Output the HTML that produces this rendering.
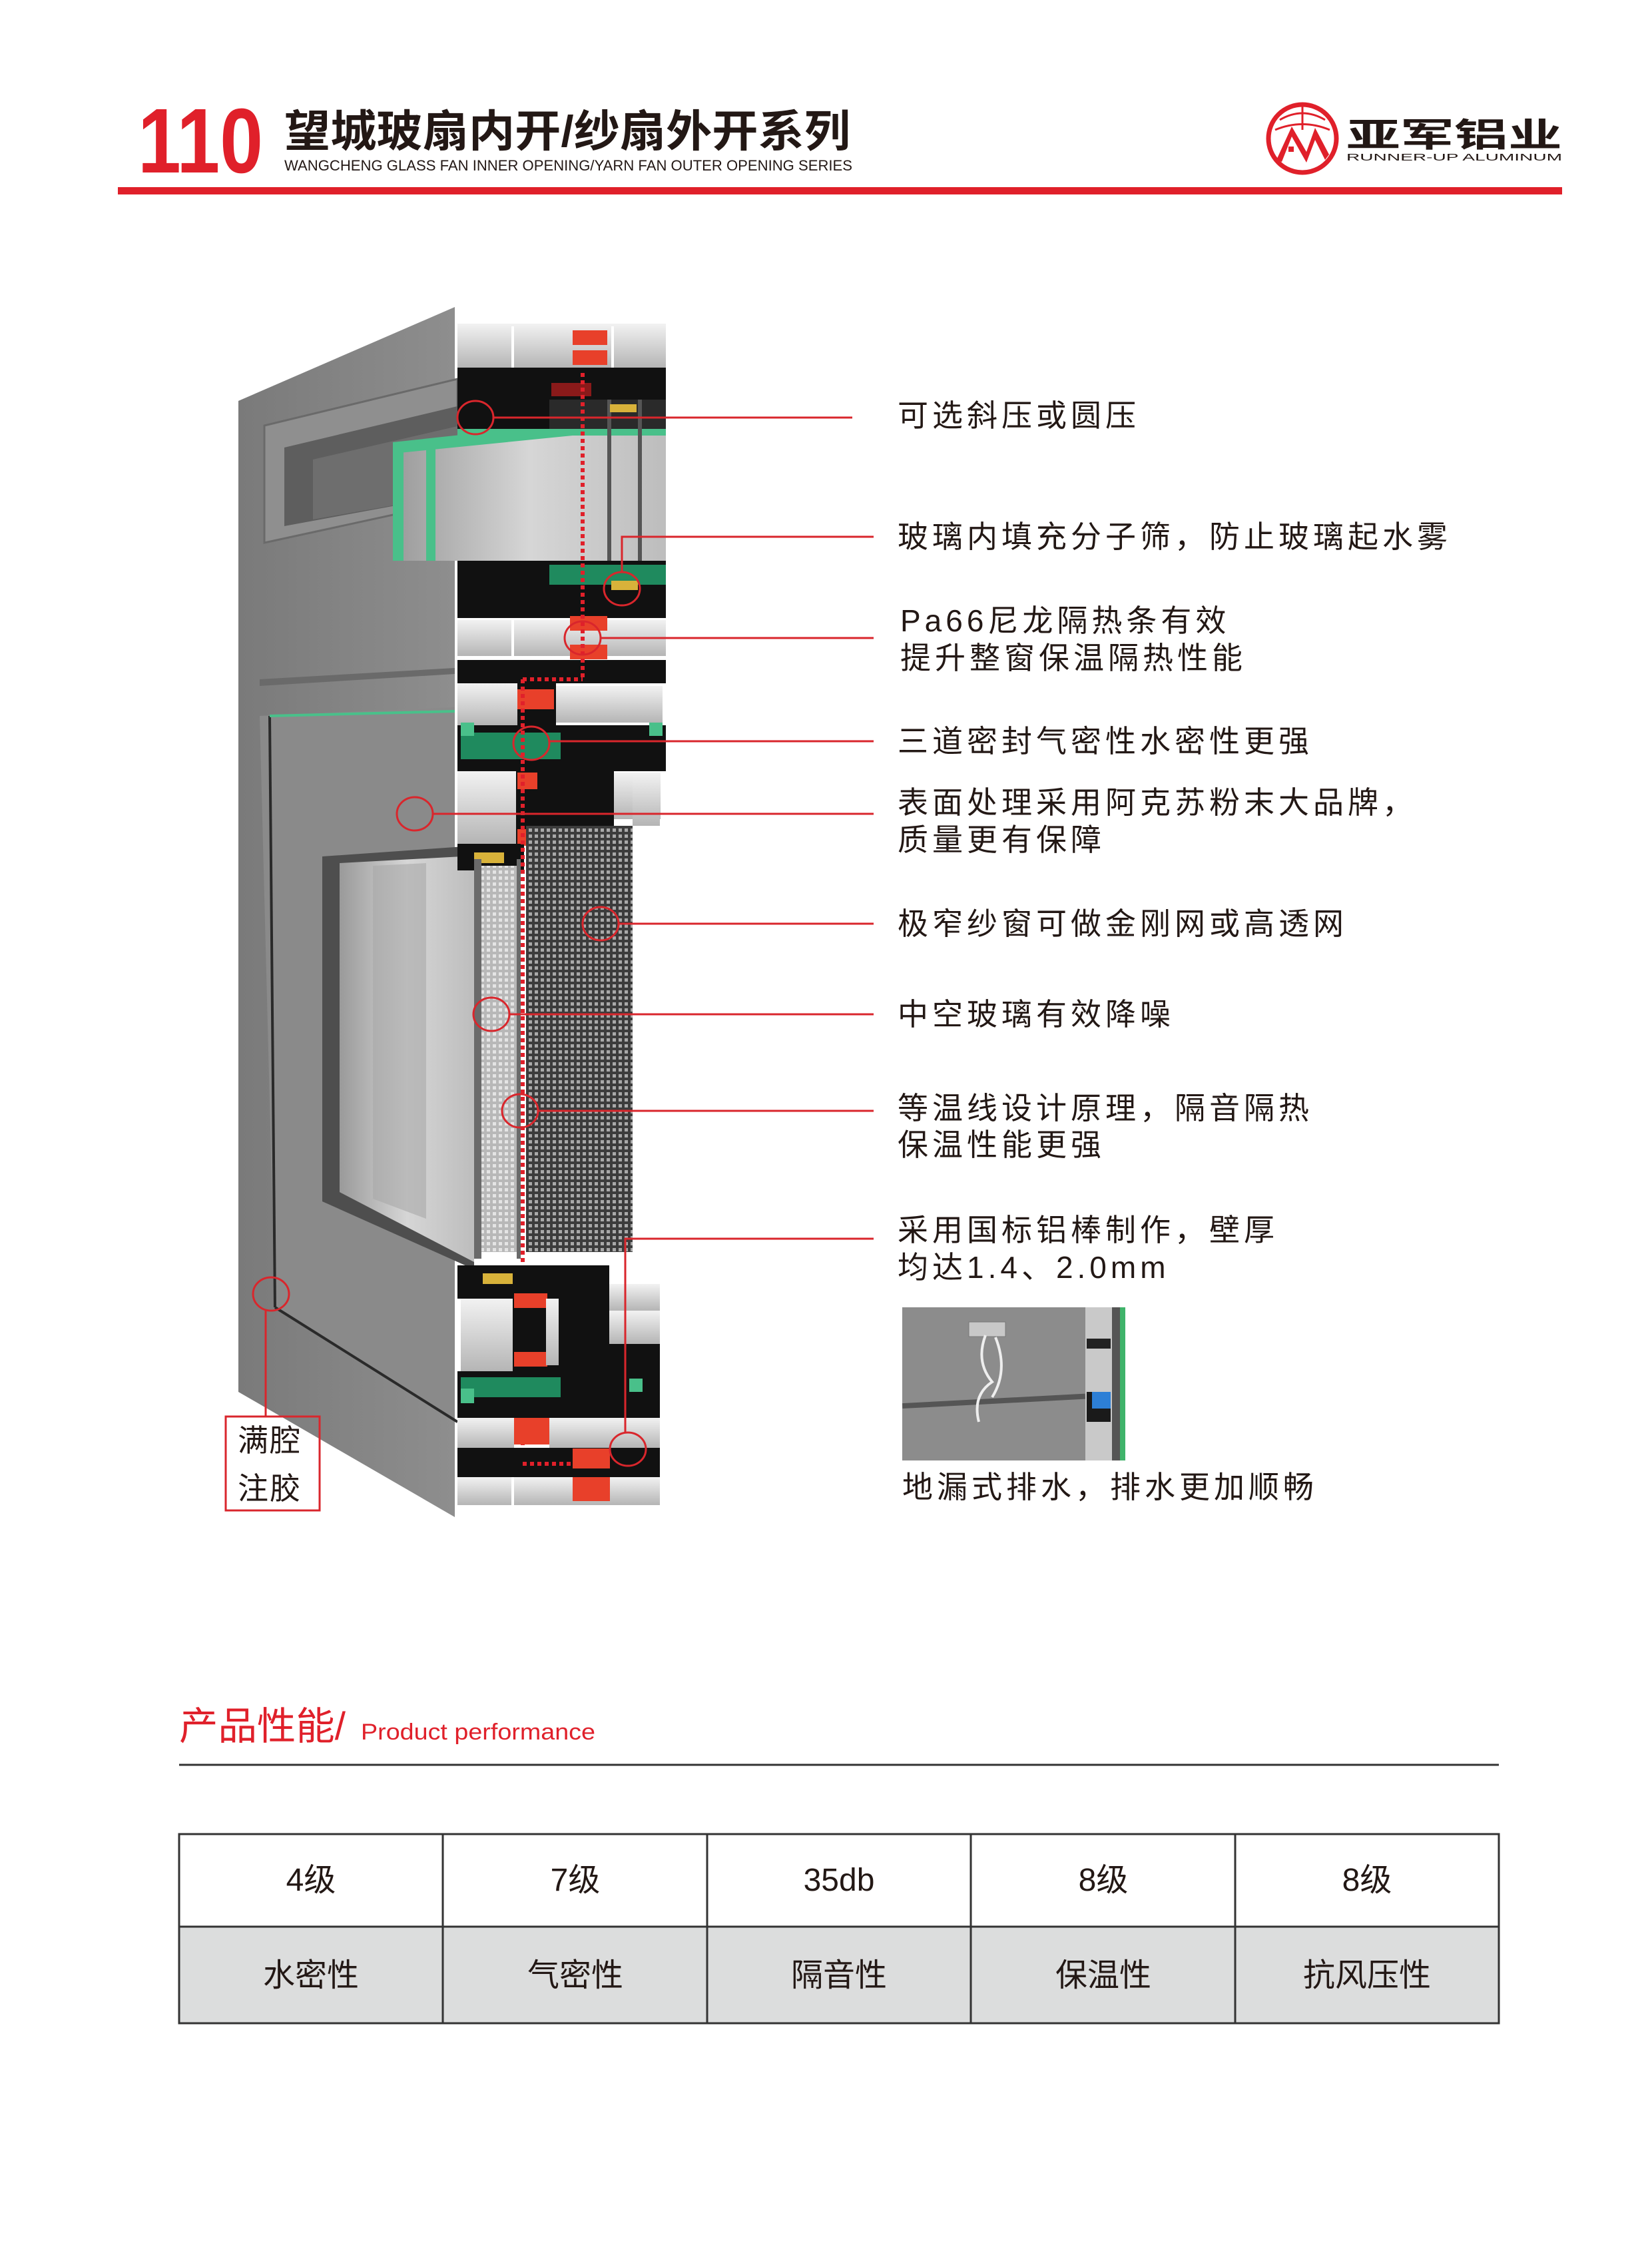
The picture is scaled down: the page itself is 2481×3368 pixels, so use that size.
<!DOCTYPE html>
<html><head><meta charset="utf-8"><style>
html,body{margin:0;padding:0;background:#fff}
svg{display:block}
text{font-family:"Liberation Sans","Noto Sans CJK SC",sans-serif}
</style></head><body>
<svg width="2481" height="3368" viewBox="0 0 2481 3368" xmlns="http://www.w3.org/2000/svg">
<defs>
<pattern id="mesh" width="9" height="9" patternUnits="userSpaceOnUse"><rect width="9" height="9" fill="#3c3c3c"/><rect x="2" y="2" width="5" height="5" fill="#a9a9a9"/></pattern>
<pattern id="mesh2" width="9" height="9" patternUnits="userSpaceOnUse"><rect width="9" height="9" fill="#b8b8b8"/><rect x="2" y="2" width="5" height="5" fill="#e4e4e4"/></pattern>
<linearGradient id="face" x1="0" y1="0" x2="1" y2="0"><stop offset="0" stop-color="#7a7a7a"/><stop offset="1" stop-color="#8e8e8e"/></linearGradient>
<linearGradient id="glass" x1="0" y1="0" x2="1" y2="0"><stop offset="0" stop-color="#9a9a9a"/><stop offset="0.5" stop-color="#d6d6d6"/><stop offset="1" stop-color="#bdbdbd"/></linearGradient>
<linearGradient id="cell" x1="0" y1="0" x2="0" y2="1"><stop offset="0" stop-color="#f2f2f2"/><stop offset="1" stop-color="#b5b5b5"/></linearGradient>
</defs>

<!-- HEADER -->
<text x="207" y="259" font-size="138" font-weight="bold" fill="#e0202a" textLength="188" lengthAdjust="spacingAndGlyphs">110</text>
<text x="427" y="220" font-size="66" font-weight="bold" fill="#231815" textLength="850" lengthAdjust="spacingAndGlyphs">望城玻扇内开/纱扇外开系列</text>
<text x="427" y="256" font-size="22" fill="#231815" textLength="853" lengthAdjust="spacingAndGlyphs">WANGCHENG GLASS FAN INNER OPENING/YARN FAN OUTER OPENING SERIES</text>
<rect x="177" y="281" width="2169" height="11" fill="#e0202a"/>
<!-- logo -->
<circle cx="1956" cy="208" r="51" fill="none" stroke="#e0202a" stroke-width="7"/>
<path d="M1922 180 Q1956 160 1990 180 M1915 195 Q1956 178 1997 195" fill="none" stroke="#e0202a" stroke-width="3"/>
<line x1="1956" y1="160" x2="1956" y2="195" stroke="#e0202a" stroke-width="3"/>
<path d="M1917 240 L1940 190 L1962 228 L1975 192 L1996 232 L1990 240 L1975 210 L1962 244 L1940 205 L1925 243 Z" fill="#e0202a"/>
<rect x="1935" y="220" width="8" height="8" fill="#e0202a"/>
<text x="2022" y="220" font-size="50" font-weight="bold" fill="#231815" textLength="324" lengthAdjust="spacingAndGlyphs">亚军铝业</text>
<text x="2022" y="241" font-size="15" fill="#231815" textLength="324" lengthAdjust="spacingAndGlyphs">RUNNER-UP ALUMINUM</text>

<!-- DIAGRAM: left face -->
<polygon points="358,602 683,461 683,2278 358,2090" fill="url(#face)"/>
<!-- transom recess -->
<polygon points="397,639 687,569 687,752 397,815" fill="#8f8f8f" stroke="#6a6a6a" stroke-width="3"/>
<polygon points="427,672 687,610 687,742 427,790" fill="#5e5e5e"/>
<polygon points="470,690 687,640 687,742 470,780" fill="#6e6e6e"/>
<!-- glass in transom -->
<polygon points="590,664 1000,640 1000,842 590,842" fill="url(#glass)"/>
<polygon points="590,664 1000,620 1000,640 600,680" fill="#49c08a"/>
<rect x="590" y="664" width="16" height="178" fill="#49c08a"/>
<rect x="640" y="660" width="14" height="182" fill="#49c08a"/>
<!-- transom frame line -->
<polygon points="390,1020 683,1003 683,1012 390,1030" fill="#6a6a6a"/>
<!-- lower sash face -->
<polygon points="390,1075 683,1062 683,2135 413,1963" fill="#8a8a8a"/>
<line x1="405" y1="1075" x2="413" y2="1963" stroke="#2a2a2a" stroke-width="4"/>
<line x1="413" y1="1963" x2="687" y2="2135" stroke="#2a2a2a" stroke-width="4"/>
<line x1="405" y1="1075" x2="683" y2="1068" stroke="#49c08a" stroke-width="4"/>
<!-- lower glass opening -->
<polygon points="484,1286 712,1270 712,1906 484,1804" fill="#4e4e4e"/>
<polygon points="510,1296 712,1285 712,1895 510,1790" fill="url(#glass)"/>
<polygon points="560,1300 640,1296 640,1830 560,1800" fill="#a8a8a8" opacity="0.6"/>

<!-- PROFILE SECTION (top) -->
<rect x="687" y="486" width="313" height="66" fill="url(#cell)"/>
<line x1="770" y1="490" x2="770" y2="552" stroke="#fff" stroke-width="4"/>
<line x1="920" y1="490" x2="920" y2="552" stroke="#fff" stroke-width="4"/>
<rect x="687" y="552" width="313" height="92" fill="#111"/>
<rect x="825" y="600" width="175" height="44" fill="#2a2a2a"/>
<rect x="828" y="575" width="60" height="20" fill="#8a1a1a"/>
<rect x="860" y="496" width="52" height="22" fill="#e8402a"/>
<rect x="860" y="526" width="52" height="22" fill="#e8402a"/>
<rect x="687" y="644" width="313" height="10" fill="#49c08a"/>
<rect x="912" y="600" width="6" height="280" fill="#555"/>
<rect x="958" y="600" width="6" height="280" fill="#555"/>
<rect x="916" y="607" width="40" height="12" fill="#d8b23a"/>
<rect x="687" y="842" width="313" height="86" fill="#111"/>
<rect x="825" y="848" width="175" height="30" fill="#1f8a5e"/>
<rect x="918" y="872" width="40" height="14" fill="#d8b23a"/>
<rect x="687" y="931" width="313" height="54" fill="url(#cell)"/>
<line x1="770" y1="931" x2="770" y2="985" stroke="#fff" stroke-width="4"/>
<rect x="856" y="925" width="56" height="22" fill="#e8402a"/>
<rect x="856" y="968" width="56" height="22" fill="#e8402a"/>
<rect x="687" y="991" width="313" height="35" fill="#111"/>
<rect x="687" y="1026" width="90" height="63" fill="url(#cell)"/>
<rect x="835" y="1030" width="160" height="55" fill="url(#cell)"/>
<rect x="777" y="1026" width="58" height="63" fill="#111"/>
<rect x="777" y="1035" width="55" height="30" fill="#e8402a"/>
<rect x="687" y="1089" width="313" height="69" fill="#111"/>
<rect x="692" y="1100" width="150" height="40" fill="#1f8a5e"/>
<rect x="692" y="1085" width="20" height="20" fill="#49c08a"/>
<rect x="975" y="1085" width="20" height="20" fill="#49c08a"/>
<rect x="687" y="1158" width="88" height="109" fill="url(#cell)"/>
<rect x="922" y="1160" width="70" height="70" fill="url(#cell)"/>
<rect x="775" y="1158" width="147" height="109" fill="#111"/>
<rect x="777" y="1160" width="30" height="25" fill="#e8402a"/>
<rect x="777" y="1245" width="30" height="25" fill="#e8402a"/>
<rect x="687" y="1267" width="100" height="40" fill="#111"/>
<rect x="712" y="1280" width="45" height="16" fill="#d8b23a"/>
<!-- mesh -->
<rect x="790" y="1240" width="160" height="640" fill="url(#mesh)"/>
<rect x="950" y="1160" width="41" height="80" fill="url(#cell)"/>
<!-- lower glass between bars -->
<rect x="723" y="1300" width="53" height="580" fill="url(#mesh2)"/>
<rect x="712" y="1290" width="11" height="600" fill="#6a6a6a"/>
<rect x="776" y="1290" width="6" height="600" fill="#6a6a6a"/>
<line x1="785" y1="1020" x2="785" y2="2240" stroke="#e0202a" stroke-width="6" stroke-dasharray="6,5"/>
<line x1="875" y1="560" x2="875" y2="1020" stroke="#e0202a" stroke-width="6" stroke-dasharray="6,5"/>
<line x1="785" y1="1020" x2="875" y2="1020" stroke="#e0202a" stroke-width="6" stroke-dasharray="6,5"/>

<!-- PROFILE SECTION (bottom) -->
<rect x="687" y="1900" width="152" height="50" fill="#111"/>
<rect x="725" y="1912" width="45" height="16" fill="#d8b23a"/>
<rect x="692" y="1950" width="78" height="109" fill="url(#cell)"/>
<rect x="770" y="1950" width="69" height="109" fill="#111"/>
<rect x="772" y="1942" width="50" height="22" fill="#e8402a"/>
<rect x="772" y="2030" width="50" height="22" fill="#e8402a"/>
<rect x="820" y="1950" width="19" height="100" fill="url(#cell)"/>
<rect x="839" y="1900" width="76" height="190" fill="#111"/>
<rect x="915" y="1928" width="76" height="40" fill="url(#cell)"/>
<rect x="915" y="1968" width="76" height="50" fill="url(#cell)"/>
<rect x="915" y="2018" width="76" height="60" fill="#111"/>
<rect x="687" y="2059" width="304" height="70" fill="#111"/>
<rect x="692" y="2068" width="150" height="30" fill="#1f8a5e"/>
<rect x="692" y="2085" width="20" height="22" fill="#49c08a"/>
<rect x="945" y="2070" width="20" height="20" fill="#49c08a"/>
<rect x="687" y="2129" width="85" height="45" fill="url(#cell)"/>
<rect x="825" y="2129" width="166" height="45" fill="url(#cell)"/>
<rect x="772" y="2129" width="53" height="40" fill="#e8402a"/>
<rect x="687" y="2174" width="304" height="44" fill="#111"/>
<rect x="860" y="2175" width="56" height="30" fill="#e8402a"/>
<rect x="687" y="2218" width="304" height="42" fill="url(#cell)"/>
<rect x="860" y="2218" width="56" height="36" fill="#e8402a"/>
<line x1="770" y1="2218" x2="770" y2="2260" stroke="#fff" stroke-width="4"/>
<line x1="785" y1="2198" x2="860" y2="2198" stroke="#e0202a" stroke-width="6" stroke-dasharray="6,5"/>

<!-- CALLOUTS -->
<g fill="none" stroke="#d9262c" stroke-width="3">
<ellipse cx="714" cy="627" rx="27" ry="25"/><line x1="741" y1="627" x2="1280" y2="627"/>
<ellipse cx="934" cy="884" rx="27" ry="25"/><polyline points="934,859 934,806 1312,806"/>
<ellipse cx="875" cy="958" rx="27" ry="25"/><line x1="902" y1="958" x2="1312" y2="958"/>
<ellipse cx="798" cy="1116" rx="27" ry="25"/><line x1="825" y1="1113" x2="1312" y2="1113"/>
<ellipse cx="623" cy="1222" rx="27" ry="25"/><line x1="650" y1="1222" x2="1312" y2="1222"/>
<ellipse cx="902" cy="1387" rx="27" ry="25"/><line x1="929" y1="1387" x2="1312" y2="1387"/>
<ellipse cx="738" cy="1523" rx="27" ry="25"/><line x1="765" y1="1523" x2="1312" y2="1523"/>
<ellipse cx="781" cy="1668" rx="27" ry="25"/><line x1="808" y1="1668" x2="1312" y2="1668"/>
<ellipse cx="943" cy="2176" rx="27" ry="25"/><polyline points="939,2151 939,1860 1312,1860"/>
<ellipse cx="407" cy="1943" rx="27" ry="25"/><line x1="399" y1="1968" x2="399" y2="2127"/>
<rect x="339" y="2127" width="141" height="141"/>
</g>
<g font-size="46" fill="#231815" letter-spacing="6">
<text x="1348" y="640">可选斜压或圆压</text>
<text x="1348" y="822">玻璃内填充分子筛，防止玻璃起水雾</text>
<text x="1352" y="948">Pa66尼龙隔热条有效</text>
<text x="1352" y="1004">提升整窗保温隔热性能</text>
<text x="1348" y="1129">三道密封气密性水密性更强</text>
<text x="1348" y="1221">表面处理采用阿克苏粉末大品牌，</text>
<text x="1348" y="1277">质量更有保障</text>
<text x="1348" y="1403">极窄纱窗可做金刚网或高透网</text>
<text x="1348" y="1539">中空玻璃有效降噪</text>
<text x="1348" y="1680">等温线设计原理，隔音隔热</text>
<text x="1348" y="1735">保温性能更强</text>
<text x="1348" y="1863">采用国标铝棒制作，壁厚</text>
<text x="1348" y="1919">均达1.4、2.0mm</text>
<text x="1355" y="2249">地漏式排水，排水更加顺畅</text>
<text x="357" y="2179" letter-spacing="2">满腔</text>
<text x="357" y="2251" letter-spacing="2">注胶</text>
</g>
<!-- small photo -->
<rect x="1355" y="1963" width="275" height="230" fill="#8c8c8c"/>
<rect x="1355" y="2100" width="275" height="8" fill="#555" transform="rotate(-3 1490 2104)"/>
<rect x="1455" y="1985" width="55" height="22" fill="#c8c8c8" stroke="#777"/>
<path d="M1480 2005 q-15 40 10 70 q-30 20 -20 60 M1495 2008 q20 50 -5 90" stroke="#eee" stroke-width="4" fill="none"/>
<rect x="1630" y="1963" width="40" height="230" fill="#c9c9c9"/>
<rect x="1632" y="2010" width="36" height="15" fill="#222"/>
<rect x="1632" y="2090" width="36" height="45" fill="#1a1a1a"/>
<rect x="1640" y="2090" width="28" height="25" fill="#2d7fd6"/>
<rect x="1670" y="1963" width="20" height="230" fill="#555"/>
<rect x="1682" y="1963" width="8" height="230" fill="#3fb36a"/>

<!-- PERFORMANCE -->
<text x="269" y="2612" font-size="58" fill="#e0202a" textLength="250" lengthAdjust="spacingAndGlyphs">产品性能/</text>
<text x="542" y="2612" font-size="34" fill="#e0202a" textLength="352" lengthAdjust="spacingAndGlyphs">Product performance</text>
<line x1="269" y1="2650" x2="2251" y2="2650" stroke="#333" stroke-width="3"/>
<rect x="269" y="2893" width="1982" height="145" fill="#dcdddd"/>
<g stroke="#333" stroke-width="3" fill="none">
<rect x="269" y="2754" width="1982" height="284"/>
<line x1="269" y1="2893" x2="2251" y2="2893"/>
<line x1="665" y1="2754" x2="665" y2="3038"/>
<line x1="1062" y1="2754" x2="1062" y2="3038"/>
<line x1="1458" y1="2754" x2="1458" y2="3038"/>
<line x1="1855" y1="2754" x2="1855" y2="3038"/>
</g>
<g font-size="48" fill="#231815" text-anchor="middle">
<text x="467" y="2839">4级</text><text x="864" y="2839">7级</text><text x="1260" y="2839">35db</text><text x="1657" y="2839">8级</text><text x="2053" y="2839">8级</text>
<text x="467" y="2982">水密性</text><text x="864" y="2982">气密性</text><text x="1260" y="2982">隔音性</text><text x="1657" y="2982">保温性</text><text x="2053" y="2982">抗风压性</text>
</g>
</svg>
</body></html>
